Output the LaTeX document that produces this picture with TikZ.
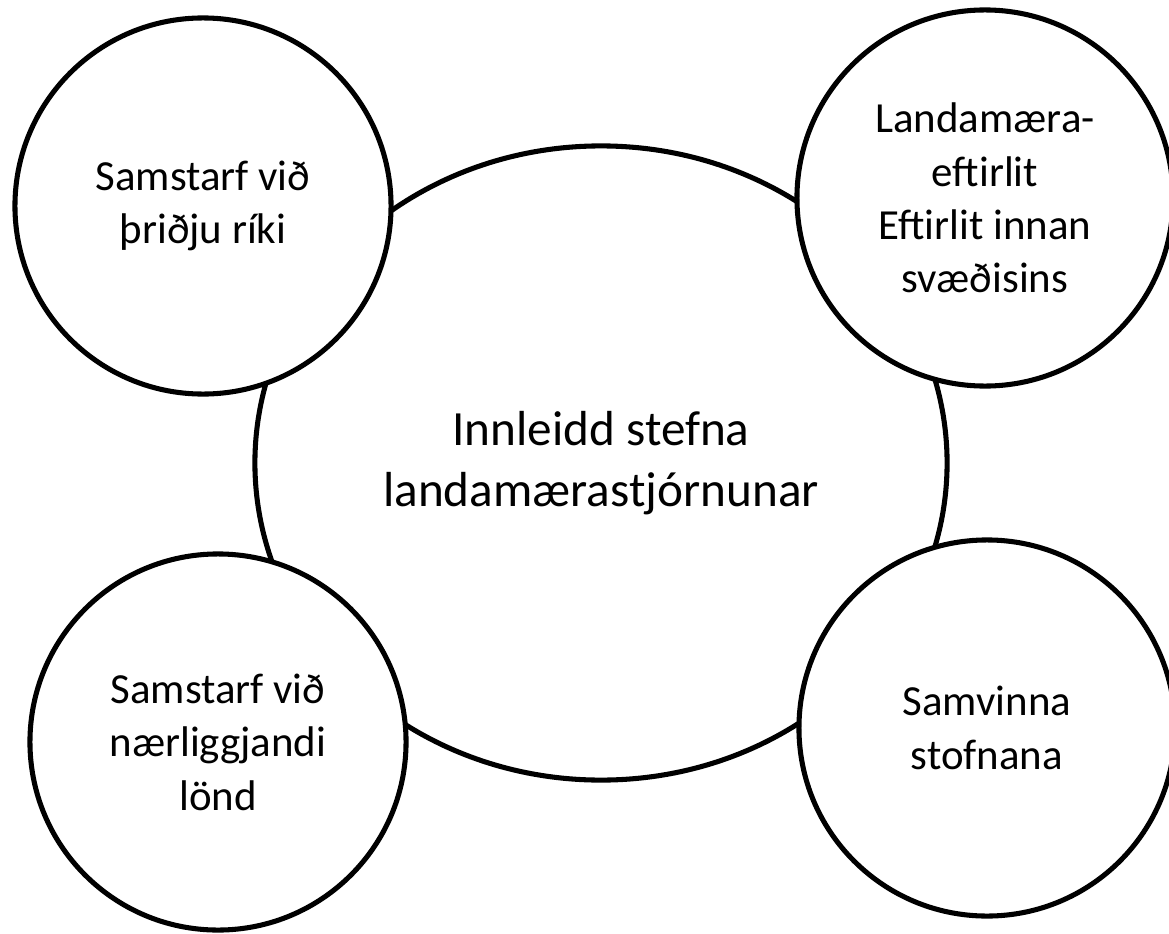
\documentclass[tikz,border=0pt]{standalone}
\usepackage{fontspec}
\setmainfont{Carlito}
\usetikzlibrary{shapes.geometric, positioning}

\tikzset{
	topic/.style={draw, circle, fill=white, line width=3.6pt, minimum size=9.4cm, inner sep=0pt, align=center, font=\fontsize{30.5}{38}\selectfont},
	core/.style={draw, ellipse, line width=3.6pt, minimum width=17.3cm, minimum height=15.85cm, inner sep=0pt, align=center, font=\fontsize{35}{43.5}\selectfont}
}

\begin{document}
\begin{tikzpicture}[x=0.025cm, y=-0.025cm]
	\useasboundingbox (0,0) rectangle (1169,933);

	\node[core] (stefna) at (601,463) {Innleidd stefna\\landamærastjórnunar};

	\node[topic] (thridju) at (203,206) {Samstarf við\\þriðju ríki};
	\node[topic] (eftirlit) at (985,198) {Landamæra-\\eftirlit\\Eftirlit innan\\svæðisins};
	\node[topic] (naer) at (218,742) {Samstarf við\\nærliggjandi\\lönd};
	\node[topic] (samvinna) at (987,728) {Samvinna\\stofnana};

\end{tikzpicture}
\end{document}
